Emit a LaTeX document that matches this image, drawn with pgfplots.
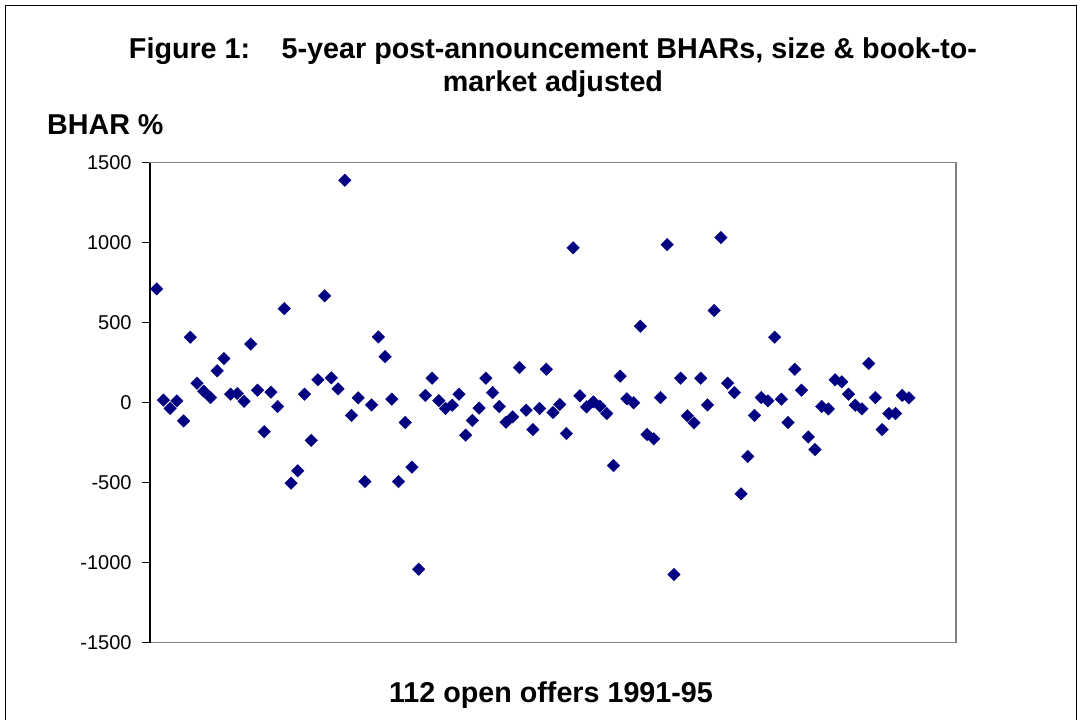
\documentclass[border=0pt]{standalone}
\usepackage{fontspec}
\setmainfont{Liberation Sans}
\usepackage{pgfplots}
\pgfplotsset{compat=1.18}
\definecolor{navy}{HTML}{000080}
\definecolor{boxgray}{HTML}{808080}
\begin{document}
\begin{tikzpicture}
\useasboundingbox (0pt,0pt) rectangle (541.5pt,-359.5pt);
\draw[black, line width=0.6pt] (2.75pt,-360pt) -- (2.75pt,-2.75pt) -- (538.25pt,-2.75pt) -- (538.25pt,-360pt);
\node[anchor=base, font=\fontsize{14.35}{17}\selectfont\bfseries, inner sep=0pt] at (276.5pt,-29pt) {Figure 1:\hspace{1.1em}5-year post-announcement BHARs, size \& book-to-};
\node[anchor=base, font=\fontsize{14.35}{17}\selectfont\bfseries, inner sep=0pt] at (276.5pt,-45.5pt) {market adjusted};
\node[anchor=base west, font=\fontsize{14.35}{17}\selectfont\bfseries, inner sep=0pt] at (23.35pt,-67pt) {BHAR \%};
\node[anchor=base, font=\fontsize{14.35}{17}\selectfont\bfseries, inner sep=0pt] at (275.5pt,-351pt) {112 open offers 1991-95};
\begin{axis}[
  at={(75pt,-321.25pt)}, anchor=south west,
  scale only axis, width=403pt, height=240pt,
  xmin=0, xmax=120, ymin=-1500, ymax=1500,
  xtick=\empty,
  ytick={-1500,-1000,-500,0,500,1000,1500},
  yticklabels={-1500,-1000,-500,0,500,1000,1500},
  ytick pos=left,
  tick align=outside,
  major tick length=4pt,
  tick style={black, line width=0.5pt},
  yticklabel style={font=\fontsize{10}{12}\selectfont, inner sep=0pt, xshift=-5pt},
  axis line style={boxgray, line width=0.6pt},
  clip=false,
]
\addplot[only marks, color=navy, mark=square*, mark size=2.25pt, mark options={rotate=45, fill=navy, draw=navy, line width=0.1pt}] coordinates {
(1,710) (2,15) (3,-37) (4,10) (5,-115) (6,408) (7,121) (8,71) (9,31) (10,198)
(11,275) (12,52) (13,56) (14,8) (15,365) (16,77) (17,-183) (18,65) (19,-25) (20,587)
(21,-504) (22,-427) (23,52) (24,-237) (25,142) (26,667) (27,154) (28,85) (29,1389) (30,-81)
(31,29) (32,-494) (33,-15) (34,410) (35,287) (36,21) (37,-494) (38,-125) (39,-404) (40,-1042)
(41,44) (42,152) (43,12) (44,-37) (45,-17) (46,52) (47,-204) (48,-112) (49,-35) (50,152)
(51,62) (52,-25) (53,-123) (54,-90) (55,219) (56,-48) (57,-169) (58,-37) (59,208) (60,-62)
(61,-12) (62,-194) (63,967) (64,42) (65,-27) (66,4) (67,-23) (68,-69) (69,-394) (70,165)
(71,23) (72,-2) (73,477) (74,-200) (75,-227) (76,31) (77,987) (78,-1075) (79,152) (80,-83)
(81,-127) (82,152) (83,-15) (84,575) (85,1031) (86,121) (87,62) (88,-571) (89,-337) (90,-81)
(91,31) (92,10) (93,408) (94,21) (95,-125) (96,208) (97,77) (98,-215) (99,-294) (100,-25)
(101,-40) (102,142) (103,129) (104,52) (105,-17) (106,-40) (107,244) (108,31) (109,-169) (110,-69)
(111,-69) (112,44) (113,29)
};
\draw[black, line width=0.6pt] (rel axis cs:0,0) -- (rel axis cs:0,1);
\end{axis}
\end{tikzpicture}
\end{document}
